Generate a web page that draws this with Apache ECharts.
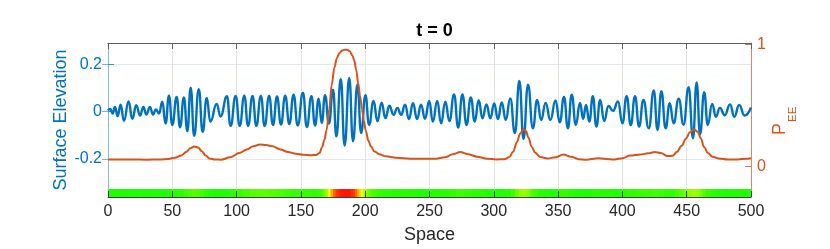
<!DOCTYPE html>
<html><head><meta charset="utf-8">
<script src="https://cdn.jsdelivr.net/npm/echarts@6/dist/echarts.min.js"></script>
<style>html,body{margin:0;padding:0;background:#fff}#c{width:830px;height:249px}</style>
</head><body><div id="c"></div>
<script>
// Surface elevation: positions of crests/troughs
const elevX = [
  0, 1.8, 3.6, 5.4, 7.5, 9.8, 12.4, 16.0, 18.9, 22.0,
  24.9, 27.5, 29.8, 32.6, 35.0, 37.3, 39.7, 42.2, 44.8, 47.4,
  50.0, 53.4, 56.0, 59.0, 61.7, 64.3, 67.0, 70.6, 73.6, 76.8,
  79.6, 84.5, 87.5, 92.5, 95.3, 99.3, 102.4, 106.0, 108.9, 112.4,
  115.3, 118.9, 121.8, 125.3, 128.3, 131.4, 134.5, 137.8, 141.0, 144.3,
  147.5, 151.6, 154.6, 158.2, 161.0, 163.8, 166.2, 168.8, 171.8, 175.0,
  177.6, 181.0, 184.0, 187.6, 190.5, 194.0, 196.8, 200.2, 203.0, 206.5,
  209.5, 212.8, 215.7, 218.8, 222.0, 225.0, 228.0, 231.0, 234.0, 237.2,
  240.3, 243.4, 246.5, 249.8, 252.6, 256.0, 259.0, 262.3, 265.5, 269.1,
  272.3, 275.6, 278.8, 282.1, 285.2, 288.2, 291.2, 294.3, 297.3, 300.3,
  303.2, 306.2, 309.3, 312.8, 316.4, 319.9, 323.1, 326.6, 330.4, 333.7,
  336.8, 340.3, 344.0, 348.0, 351.3, 354.6, 357.6, 360.6, 363.8, 367.0,
  369.5, 371.7, 374.3, 377.0, 379.8, 382.7, 385.8, 389.2, 392.7, 396.6,
  400.0, 403.3, 406.5, 409.8, 413.0, 416.3, 420.5, 424.4, 427.3, 430.3,
  433.6, 436.8, 439.8, 443.8, 447.5, 451.5, 454.9, 457.7, 460.4, 463.6,
  466.4, 469.8, 472.7, 475.8, 479.6, 483.7, 487.0, 490.8, 495.0, 500.0
];
const elevY = [
  0.005, 0.012, -0.008, 0.02, -0.018, 0.03, -0.038, 0.043, -0.03, 0.027,
  -0.016, 0.02, -0.012, 0.02, -0.012, 0.01, -0.008, 0.042, -0.05, 0.068,
  -0.056, 0.062, -0.066, 0.06, -0.082, 0.101, -0.102, 0.095, -0.085, 0.058,
  -0.042, 0.033, -0.02, 0.065, -0.06, 0.067, -0.06, 0.068, -0.06, 0.067,
  -0.06, 0.066, -0.06, 0.066, -0.056, 0.064, -0.054, 0.068, -0.052, 0.072,
  -0.058, 0.08, -0.065, 0.065, -0.058, 0.055, -0.048, 0.07, -0.05, 0.093,
  -0.104, 0.138, -0.143, 0.142, -0.125, 0.115, -0.09, 0.07, -0.055, 0.045,
  -0.04, 0.038, -0.027, 0.025, -0.013, 0.016, -0.013, 0.03, -0.031, 0.036,
  -0.031, 0.03, -0.03, 0.045, -0.042, 0.045, -0.049, 0.042, -0.039, 0.073,
  -0.067, 0.073, -0.056, 0.06, -0.042, 0.049, -0.028, 0.031, -0.028, 0.035,
  -0.031, 0.039, -0.035, 0.056, -0.09, 0.13, -0.115, 0.114, -0.07, 0.05,
  -0.035, 0.037, -0.035, 0.048, -0.045, 0.062, -0.07, 0.072, -0.056, 0.037,
  -0.03, 0.028, -0.042, 0.065, -0.063, 0.05, -0.039, 0.024, 0.004, 0.043,
  -0.049, 0.065, -0.056, 0.065, -0.063, 0.05, -0.07, 0.09, -0.077, 0.087,
  -0.07, 0.036, -0.049, 0.055, -0.055, 0.103, -0.112, 0.123, -0.095, 0.082,
  -0.056, 0.033, -0.021, 0.016, -0.015, 0.031, -0.021, 0.028, -0.016, 0.018
];
// P_EE curve
const peeX = [
  0, 10, 20, 30, 40, 47, 52, 57, 61, 64,
  67, 70, 73, 76, 79, 83, 88, 95, 102, 108,
  113, 118, 123, 128, 134, 140, 146, 152, 158, 162,
  164.5, 166.5, 168.3, 170, 172, 174, 176, 178, 180, 182,
  184, 186, 188, 190, 191.5, 193, 194.6, 196, 197.5, 199,
  200.5, 202.5, 204.5, 207, 211, 216, 224, 235, 245, 255,
  262, 268, 274, 280, 287, 295, 302, 308, 312, 315,
  318, 320.5, 323, 325, 327, 329.5, 332, 336, 342, 348,
  354, 360, 366, 372, 381, 387, 394, 400, 406, 414,
  420, 425, 430, 435, 439, 442.5, 446, 449.5, 452.5, 455.7,
  458.5, 461, 463.5, 466.5, 470, 475, 482, 490, 496, 500
];
const peeY = [
  0.058, 0.057, 0.058, 0.056, 0.058, 0.062, 0.072, 0.09, 0.12, 0.15,
  0.164, 0.155, 0.125, 0.09, 0.065, 0.057, 0.056, 0.075, 0.11, 0.14,
  0.165, 0.18, 0.176, 0.165, 0.14, 0.118, 0.105, 0.097, 0.093, 0.095,
  0.11, 0.16, 0.22, 0.3, 0.47, 0.67, 0.81, 0.89, 0.93, 0.95,
  0.957, 0.957, 0.945, 0.91, 0.87, 0.79, 0.68, 0.58, 0.47, 0.37,
  0.29, 0.21, 0.165, 0.125, 0.1, 0.083, 0.071, 0.064, 0.063, 0.064,
  0.075, 0.1, 0.118, 0.1, 0.08, 0.064, 0.058, 0.06, 0.075, 0.12,
  0.2, 0.27, 0.305, 0.29, 0.235, 0.16, 0.115, 0.078, 0.066, 0.075,
  0.098, 0.08, 0.06, 0.056, 0.068, 0.062, 0.058, 0.068, 0.09, 0.099,
  0.108, 0.118, 0.11, 0.085, 0.088, 0.12, 0.17, 0.23, 0.28, 0.305,
  0.285, 0.23, 0.16, 0.11, 0.08, 0.065, 0.057, 0.058, 0.063, 0.068
];
const xRange = [0, 500];
const xStep = 50;
const elevRange = [-0.36, 0.29];
const elevTicks = [-0.2, 0, 0.2];
const peeRange = [-0.25, 1.012];
const peeTicks = [0, 1];
const stripColors = ['#00ff00', '#ffff00', '#ff0000'];

const FONT = 'Liberation Sans, Arial, Helvetica, sans-serif';
const BLUE = '#0072BD', ORANGE = '#D95319';

const elevData = elevX.map((x, i) => [x, elevY[i]]);
const peeData = peeX.map((x, i) => [x, peeY[i]]);
const stripData = peeX.map((x, i) => [
  x, peeY[i],
  i === 0 ? x : (peeX[i - 1] + x) / 2,
  i === peeX.length - 1 ? x : (x + peeX[i + 1]) / 2
]);

const chart = echarts.init(document.getElementById('c'), null, {renderer: 'canvas'});
chart.setOption({
  animation: false,
  backgroundColor: '#ffffff',
  textStyle: {fontFamily: FONT},
  title: {
    text: 't = 0', left: 429.5, top: 17, textAlign: 'center',
    textStyle: {fontSize: 18, fontWeight: 'bold', color: '#000', fontFamily: FONT}
  },
  grid: [
    {left: 108, top: 43, width: 643, height: 154, containLabel: false},
    {left: 108, top: 189, width: 643, height: 8, containLabel: false}
  ],
  xAxis: [
    {gridIndex: 0, type: 'value', min: xRange[0], max: xRange[1], interval: xStep, position: 'bottom',
     axisLine: {show: false}, axisTick: {show: false}, axisLabel: {show: false},
     splitLine: {show: true, lineStyle: {color: '#e3e3e3', width: 1}}},
    {gridIndex: 0, type: 'value', min: xRange[0], max: xRange[1], interval: xStep, position: 'bottom', z: 10,
     axisLine: {show: true, onZero: false, lineStyle: {color: '#404040', width: 1}},
     axisTick: {show: true, inside: true, length: 6, lineStyle: {color: '#404040'}},
     axisLabel: {show: true, fontSize: 16, color: '#262626', margin: 7, fontFamily: FONT},
     splitLine: {show: false},
     name: 'Space', nameLocation: 'middle', nameGap: 29, nameMoveOverlap: false,
     nameTextStyle: {fontSize: 18, color: '#262626', fontFamily: FONT}},
    {gridIndex: 0, type: 'value', min: xRange[0], max: xRange[1], interval: xStep, position: 'top', z: 10,
     axisLine: {show: true, onZero: false, lineStyle: {color: '#606060', width: 1}},
     axisTick: {show: true, inside: true, length: 6, lineStyle: {color: '#606060'}},
     axisLabel: {show: false}, splitLine: {show: false}},
    {gridIndex: 1, type: 'value', min: xRange[0], max: xRange[1], show: false}
  ],
  yAxis: [
    {gridIndex: 0, type: 'value', min: elevRange[0], max: elevRange[1], position: 'left',
     axisLine: {show: true, onZero: false, lineStyle: {color: '#86b9e0', width: 1}},
     axisTick: {show: true, inside: true, length: 6, customValues: elevTicks, lineStyle: {color: '#3a8ccb'}},
     axisLabel: {show: true, customValues: elevTicks, fontSize: 16, color: BLUE, margin: 6, fontFamily: FONT},
     splitLine: {show: true, lineStyle: {color: '#e0e8f1', width: 1}},
     name: 'Surface Elevation', nameLocation: 'middle', nameGap: 38, nameMoveOverlap: false,
     nameTextStyle: {fontSize: 18, color: BLUE, fontFamily: FONT}},
    {gridIndex: 0, type: 'value', min: peeRange[0], max: peeRange[1], position: 'right',
     axisLine: {show: true, onZero: false, lineStyle: {color: '#e2845f', width: 1}},
     axisTick: {show: true, inside: true, length: 6, customValues: peeTicks, lineStyle: {color: '#e07040'}},
     axisLabel: {show: true, customValues: peeTicks, fontSize: 16, color: ORANGE, margin: 6, fontFamily: FONT},
     splitLine: {show: false}},
    {gridIndex: 0, type: 'value', min: elevRange[0], max: elevRange[1], position: 'right',
     axisLine: {show: false},
     axisTick: {show: true, inside: true, length: 6, customValues: elevTicks, lineStyle: {color: '#7fb3dc'}},
     axisLabel: {show: false}, splitLine: {show: false}},
    {gridIndex: 1, type: 'value', min: 0, max: 1, show: false}
  ],
  visualMap: {
    type: 'continuous', show: false, seriesIndex: 2, dimension: 1,
    min: 0, max: 1, inRange: {color: stripColors}
  },
  series: [
    {type: 'line', name: 'Surface Elevation', xAxisIndex: 1, yAxisIndex: 0, data: elevData,
     showSymbol: false, smooth: 0.5, smoothMonotone: 'x', z: 3,
     lineStyle: {color: BLUE, width: 2.4}, itemStyle: {color: BLUE}},
    {type: 'line', name: 'PEE', xAxisIndex: 1, yAxisIndex: 1, data: peeData,
     showSymbol: false, smooth: 0.35, smoothMonotone: 'x', z: 4,
     lineStyle: {color: ORANGE, width: 2}, itemStyle: {color: ORANGE}},
    {type: 'custom', name: 'strip', xAxisIndex: 3, yAxisIndex: 3, data: stripData, z: 2,
     encode: {x: [0, 2, 3], y: 1},
     renderItem: function (params, api) {
       const a = api.coord([api.value(2), 1]);
       const b = api.coord([api.value(3), 0]);
       return {type: 'rect', shape: {x: a[0], y: a[1], width: b[0] - a[0] + 0.7, height: b[1] - a[1]},
               style: {fill: api.visual('color')}};
     }}
  ],
  graphic: [
    {type: 'group', x: 780, y: 135, rotation: Math.PI / 2, children: [
      {type: 'text', x: 0, y: 0, style: {text: 'P', fontSize: 17.6, fontFamily: FONT, fill: ORANGE,
        textAlign: 'left', textVerticalAlign: 'middle', align: 'left', verticalAlign: 'middle'}},
      {type: 'text', x: 13, y: 13, style: {text: 'EE', fontSize: 11.5, fontFamily: FONT, fill: ORANGE,
        textAlign: 'left', textVerticalAlign: 'middle', align: 'left', verticalAlign: 'middle'}}
    ]}
  ]
});
</script>
</body></html>
